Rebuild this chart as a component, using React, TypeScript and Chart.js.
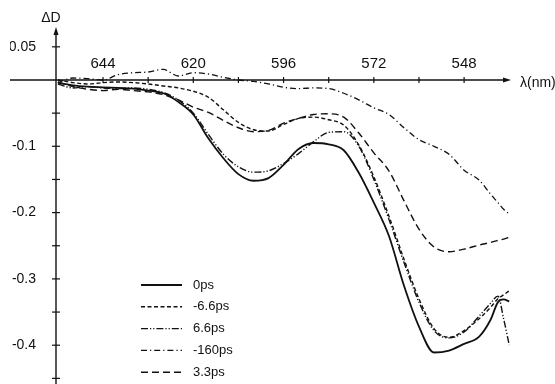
import { useEffect, useRef } from 'react';
import { Chart, registerables } from 'chart.js';

Chart.register(...registerables);

// ---- data ----
const wavelengths = [656, 652, 648, 644, 640, 636, 632, 628, 624, 620, 616, 612, 608, 604, 600, 596, 592, 588, 584, 580, 576, 572, 568, 564, 560, 556, 552, 548, 544, 541, 539, 537.5, 536];

const series0ps = [-0.004, -0.008, -0.010, -0.011, -0.012, -0.013, -0.016, -0.020, -0.033, -0.052, -0.088, -0.118, -0.142, -0.152, -0.148, -0.128, -0.104, -0.095, -0.097, -0.106, -0.140, -0.185, -0.235, -0.310, -0.372, -0.411, -0.408, -0.398, -0.387, -0.362, -0.335, -0.331, -0.334];
const seriesMinus6_6ps = [0.000, -0.004, -0.006, -0.004, -0.003, -0.004, -0.006, -0.009, -0.012, -0.017, -0.026, -0.045, -0.064, -0.075, -0.077, -0.067, -0.058, -0.056, -0.060, -0.068, -0.098, -0.146, -0.205, -0.270, -0.330, -0.375, -0.388, -0.378, -0.360, -0.343, -0.330, -0.324, -0.318];
const series6_6ps = [-0.006, -0.012, -0.010, -0.012, -0.013, -0.012, -0.014, -0.019, -0.030, -0.050, -0.082, -0.112, -0.131, -0.139, -0.137, -0.126, -0.111, -0.093, -0.079, -0.078, -0.100, -0.150, -0.210, -0.275, -0.335, -0.378, -0.389, -0.380, -0.356, -0.337, -0.326, -0.360, -0.400];
const seriesMinus160ps = [-0.004, 0.003, 0.002, 0.000, 0.008, 0.011, 0.012, 0.016, 0.006, 0.011, 0.009, 0.004, 0.000, -0.002, -0.006, -0.011, -0.013, -0.012, -0.013, -0.020, -0.030, -0.042, -0.052, -0.072, -0.090, -0.100, -0.112, -0.136, -0.151, -0.172, -0.185, -0.195, -0.202];
const series3_3ps = [-0.003, -0.010, -0.014, -0.016, -0.014, -0.016, -0.018, -0.022, -0.030, -0.041, -0.049, -0.061, -0.072, -0.078, -0.076, -0.065, -0.058, -0.052, -0.051, -0.056, -0.080, -0.110, -0.137, -0.182, -0.225, -0.252, -0.259, -0.255, -0.249, -0.245, -0.242, -0.240, -0.237];

const seriesLabels = ['0ps', '-6.6ps', '6.6ps', '-160ps', '3.3ps'];

const xTickValues = [644, 632, 620, 608, 596, 584, 572, 560, 548];
const xLabelValues = [644, 620, 596, 572, 548];
const xLabels = ['644', '620', '596', '572', '548'];

const yTickValues = [0.05, -0.05, -0.1, -0.15, -0.2, -0.25, -0.3, -0.35, -0.4, -0.45];
const yLabelValues = [0.05, -0.1, -0.2, -0.3, -0.4];
const yLabels = ['0.05', '-0.1', '-0.2', '-0.3', '-0.4'];

const xAxisTitle = 'λ(nm)';
const yAxisTitle = 'ΔD';

// ---- style ----
const X_MIN = 535.8;
const X_MAX = 656.5;
const Y_MIN = -0.4585;
const Y_MAX = 0.0784;
const INK = '#111';
const FONT = 'Liberation Sans, Arial, sans-serif';

const styles = [
  { borderDash: [], borderWidth: 1.8 },
  { borderDash: [4, 2.5], borderWidth: 1.4 },
  { borderDash: [7, 2, 1.2, 2, 1.2, 2], borderWidth: 1.4 },
  { borderDash: [6, 3, 1.2, 3], borderWidth: 1.3 },
  { borderDash: [7, 4], borderWidth: 1.4 },
];

const allSeries = [series0ps, seriesMinus6_6ps, series6_6ps, seriesMinus160ps, series3_3ps];

function labelFor(v: number, values: number[], labels: string[]) {
  for (let i = 0; i < values.length; i++) {
    if (Math.abs(values[i] - v) < 1e-6) return labels[i];
  }
  return '';
}

const decorPlugin = {
  id: 'decor',
  afterDraw(chart: any) {
    const { ctx, chartArea } = chart;
    const xs = chart.scales.x;
    const ys = chart.scales.y;
    const y0 = ys.getPixelForValue(0);
    const ax = xs.getPixelForValue(X_MAX);
    ctx.save();
    ctx.strokeStyle = INK;
    ctx.fillStyle = INK;
    ctx.lineWidth = 1.4;
    ctx.setLineDash([]);
    // x axis line (extends left of y axis)
    ctx.beginPath();
    ctx.moveTo(ax - 46, y0);
    ctx.lineTo(chartArea.right - 2, y0);
    ctx.stroke();
    ctx.beginPath();
    ctx.moveTo(chartArea.right + 1, y0);
    ctx.lineTo(chartArea.right - 7, y0 - 2.5);
    ctx.lineTo(chartArea.right - 7, y0 + 2.5);
    ctx.closePath();
    ctx.fill();
    // y axis line
    ctx.beginPath();
    ctx.moveTo(ax, chartArea.top + 3);
    ctx.lineTo(ax, chartArea.bottom);
    ctx.stroke();
    ctx.beginPath();
    ctx.moveTo(ax, chartArea.top - 1);
    ctx.lineTo(ax - 2.5, chartArea.top + 7);
    ctx.lineTo(ax + 2.5, chartArea.top + 7);
    ctx.closePath();
    ctx.fill();
    // ticks
    ctx.lineWidth = 1.2;
    xs.ticks.forEach((t: any) => {
      const px = xs.getPixelForValue(t.value);
      ctx.beginPath();
      ctx.moveTo(px, y0 - 3);
      ctx.lineTo(px, y0 + 3);
      ctx.stroke();
    });
    ys.ticks.forEach((t: any) => {
      const py = ys.getPixelForValue(t.value);
      ctx.beginPath();
      ctx.moveTo(ax - 4, py);
      ctx.lineTo(ax + 4, py);
      ctx.stroke();
    });
    // axis titles
    ctx.font = '14px ' + FONT;
    ctx.textBaseline = 'middle';
    ctx.textAlign = 'center';
    ctx.fillText(yAxisTitle, ax - 5, chartArea.top - 10);
    ctx.textAlign = 'left';
    ctx.fillText(xAxisTitle, chartArea.right + 10, y0 + 3);
    // legend
    const lx = 141;
    const ly = 285;
    chart.data.datasets.forEach((ds: any, i: number) => {
      const yy = ly + i * 21.8;
      ctx.lineWidth = ds.borderWidth;
      ctx.setLineDash(ds.borderDash || []);
      ctx.beginPath();
      ctx.moveTo(lx, yy);
      ctx.lineTo(lx + 41, yy);
      ctx.stroke();
      ctx.setLineDash([]);
      ctx.font = '13px ' + FONT;
      ctx.textAlign = 'left';
      ctx.fillText(ds.label, lx + 52, yy);
    });
    ctx.restore();
  },
};

export default function App() {
  const ref = useRef<HTMLCanvasElement | null>(null);
  useEffect(() => {
    if (!ref.current) return;
    const chart = new Chart(ref.current, {
      type: 'line',
      data: {
        datasets: allSeries.map((vals, i) => ({
          label: seriesLabels[i],
          data: wavelengths.map((w, j) => ({ x: w, y: vals[j] })),
          borderColor: INK,
          borderWidth: styles[i].borderWidth,
          borderDash: styles[i].borderDash,
          pointRadius: 0,
          fill: false,
          cubicInterpolationMode: 'monotone' as const,
        })),
      },
      options: {
        animation: false,
        responsive: false,
        layout: { padding: { left: 10, right: 45, top: 28, bottom: 0 } },
        plugins: { legend: { display: false }, tooltip: { enabled: false }, title: { display: false } },
        scales: {
          x: {
            type: 'linear',
            reverse: true,
            min: X_MIN,
            max: X_MAX,
            position: { y: 0 } as any,
            afterBuildTicks: (s: any) => {
              s.ticks = xTickValues.map((v) => ({ value: v }));
            },
            afterFit: (s: any) => {
              s.height = 0;
              s.paddingLeft = 0;
              s.paddingRight = 0;
              s.paddingTop = 0;
              s.paddingBottom = 0;
            },
            grid: { display: false, drawTicks: false },
            border: { display: false },
            ticks: {
              padding: -25,
              autoSkip: false,
              maxRotation: 0,
              color: INK,
              font: { family: FONT, size: 15 },
              callback: (v: any) => labelFor(Number(v), xLabelValues, xLabels),
            },
          },
          y: {
            type: 'linear',
            position: 'left',
            min: Y_MIN,
            max: Y_MAX,
            afterBuildTicks: (s: any) => {
              s.ticks = yTickValues.map((v) => ({ value: v }));
            },
            afterFit: (s: any) => {
              s.width = 46;
              s.paddingTop = 0;
              s.paddingBottom = 0;
            },
            grid: { display: false, drawTicks: false },
            border: { display: false },
            ticks: {
              padding: 20,
              autoSkip: false,
              color: INK,
              font: { family: FONT, size: 14 },
              callback: (v: any) => labelFor(Number(v), yLabelValues, yLabels),
            },
          },
        },
      },
      plugins: [decorPlugin],
    });
    return () => chart.destroy();
  }, []);
  return (
    <div style={{ position: 'absolute', left: 0, top: 0, width: 555, height: 384, background: '#fff' }}>
      <canvas ref={ref} width={555} height={384} />
    </div>
  );
}
